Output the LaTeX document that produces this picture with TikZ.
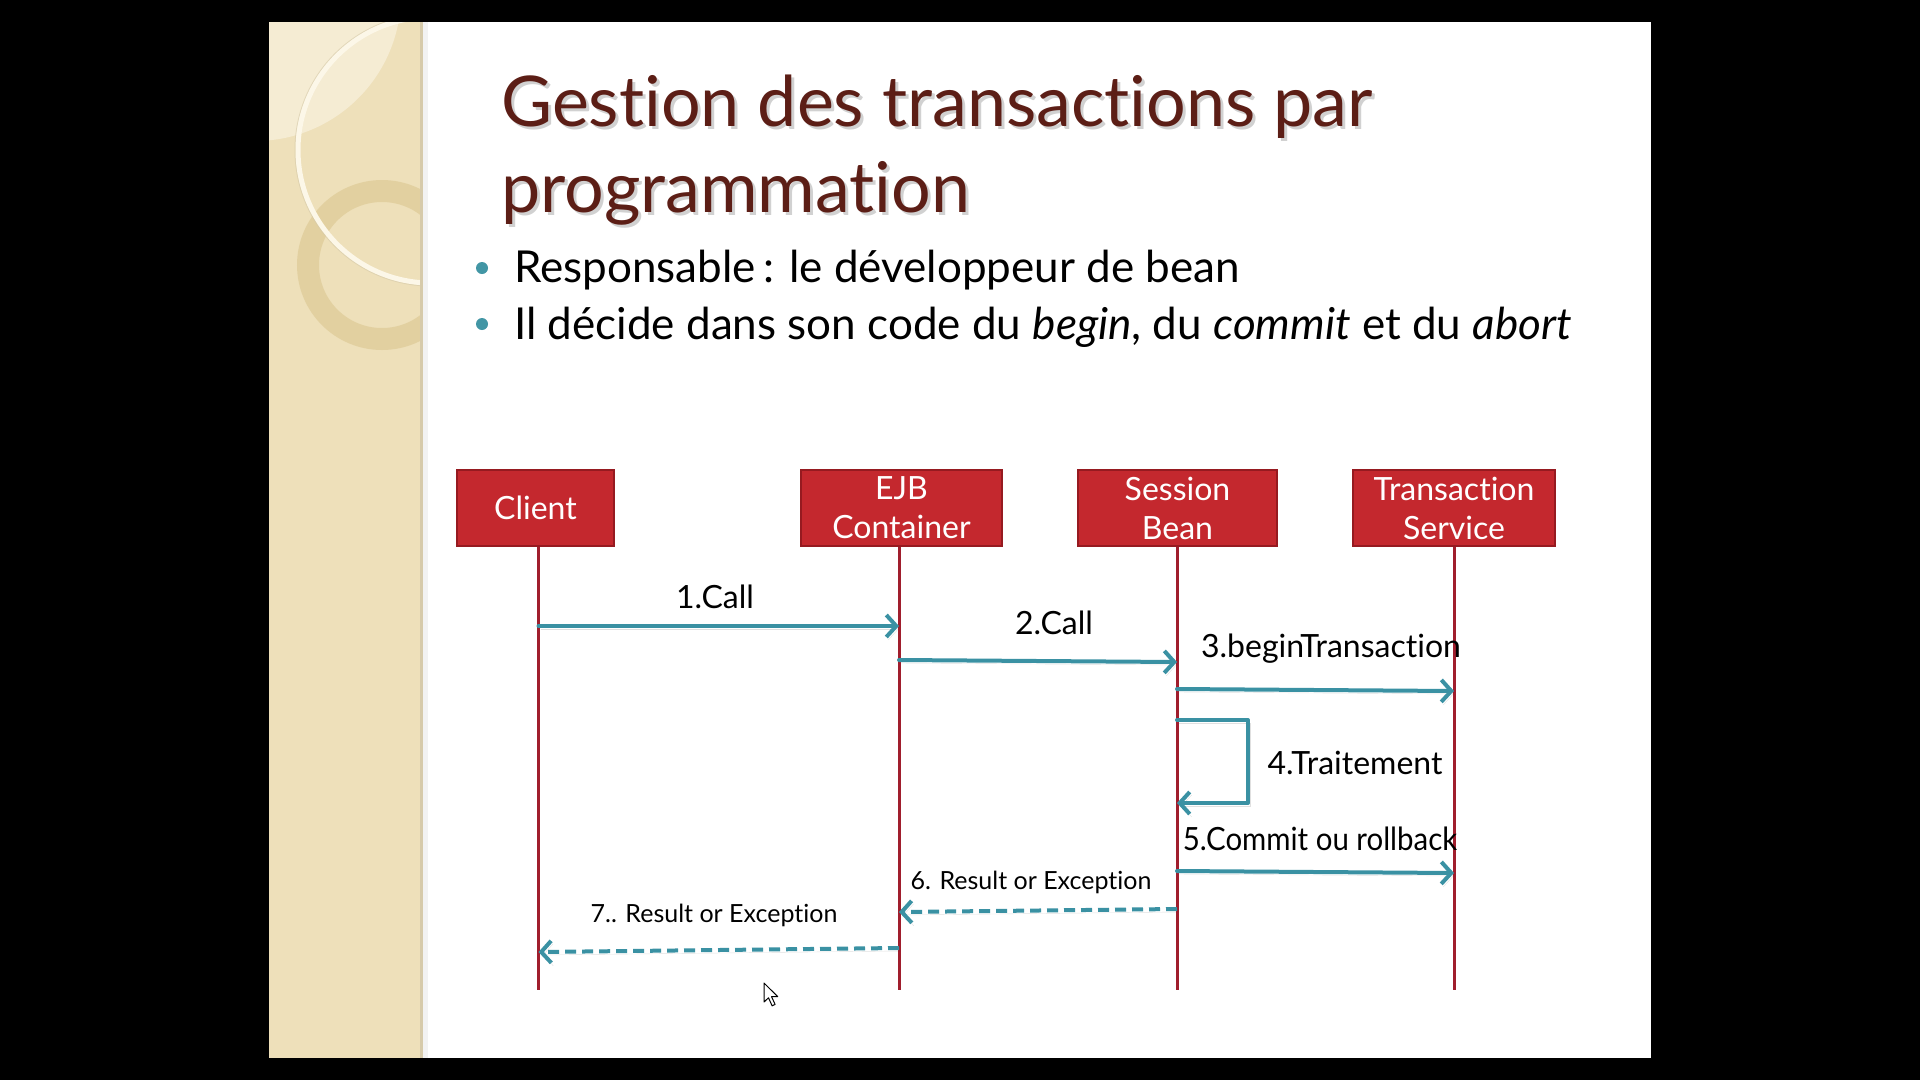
\documentclass[tikz,border=0pt]{standalone}
\usepackage{fontspec}
\setmainfont{Lato}[Ligatures=NoCommon]
\usetikzlibrary{arrows.meta}

\definecolor{panel}{RGB}{238,224,186}
\definecolor{panellight}{RGB}{245,236,211}
\definecolor{ringtan}{RGB}{222,202,150}
\definecolor{ringwhite}{RGB}{252,247,232}
\definecolor{panelshadow}{RGB}{214,202,170}
\definecolor{titlecol}{RGB}{92,30,22}
\definecolor{boxred}{RGB}{196,40,46}
\definecolor{boxborder}{RGB}{150,26,32}
\definecolor{lifecol}{RGB}{160,30,45}
\definecolor{teal}{RGB}{58,145,163}
\definecolor{bulletcol}{RGB}{66,150,165}

\tikzset{
  actor/.style={draw=boxborder, fill=boxred, line width=1.5pt, text=white,
    font=\fontsize{32}{39}\selectfont, align=center, minimum height=76pt, inner sep=0pt},
  lifeline/.style={draw=lifecol, line width=3pt},
  msg/.style={draw=teal, line width=4pt, line cap=round,
    -{Straight Barb[length=10pt,width=22pt,line width=4pt]},
    preaction={draw=black, draw opacity=0.12, transform canvas={shift={(2pt,-3pt)}}}},
  reply/.style={msg, dash pattern=on 11pt off 6pt, line cap=butt},
  lbl/.style={anchor=base, inner sep=0pt, text=black, font=\fontsize{32}{38}\selectfont},
  smalllbl/.style={anchor=base, inner sep=0pt, text=black, font=\fontsize{25}{30}\selectfont},
  titletext/.style={anchor=base west, inner sep=0pt, text=titlecol, font=\fontsize{70}{84}\selectfont},
  titleshadow/.style={anchor=base west, inner sep=0pt, text=black, text opacity=0.18, font=\fontsize{70}{84}\selectfont},
  bullettext/.style={anchor=base west, inner sep=0pt, text=black, font=\fontsize{44}{52}\selectfont},
}

\begin{document}
\begin{tikzpicture}[x=1pt,y=-1pt]
\useasboundingbox (0,0) rectangle (1920,1080);
\fill[black] (0,0) rectangle (1920,1080);
\fill[white] (269,22) rectangle (1651,1058);

% decorative side panel with rings
\begin{scope}
  \clip (269,22) rectangle (421,1058);
  \fill[panel] (269,22) rectangle (421,1058);
  \fill[panellight] (255,-5) circle (146pt);
  \draw[ringtan, line width=22pt, opacity=0.7] (382,265) circle (74pt);
  \draw[panelshadow, line width=1pt, opacity=0.6] (431,150) circle (136pt);
  \draw[ringwhite, line width=5pt] (431,150) circle (133pt);
\end{scope}
\fill[panelshadow] (420,22) rectangle (423,1058);
\fill[black, opacity=0.05] (423,22) rectangle (428,1058);

% title
\node[titleshadow] at (504,129) {Gestion des transactions par};
\node[titleshadow] at (504,215) {programmation};
\node[titletext] (t1) at (501,126) {Gestion des transactions par};
\node[titletext] (t2) at (501,212) {programmation};

% bullet list
\fill[bulletcol] (482,268) circle (6pt);
\fill[bulletcol] (482,324) circle (6pt);
\node[bullettext] (b1) at (514,282) {Responsable\,: le développeur de bean};
\node[bullettext] (b2) at (514,339) {Il décide dans son code du \textit{begin}, du \textit{commit} et du \textit{abort}};

% participants
\node[actor, minimum width=157pt] (client) at (535.5,508) {Client};
\node[actor, minimum width=201pt] (ejb) at (901.5,508) {EJB\\Container};
\node[actor, minimum width=199pt] (sb) at (1177.5,508) {Session\\Bean};
\node[actor, minimum width=202pt] (ts) at (1454,508) {Transaction\\Service};

% lifelines
\coordinate (clientEnd) at (538.5,990);
\coordinate (ejbEnd) at (899,990);
\coordinate (sbEnd) at (1177,990);
\coordinate (tsEnd) at (1454,990);
\draw[lifeline] (client.south -| clientEnd) -- (clientEnd);
\draw[lifeline] (ejb.south -| ejbEnd) -- (ejbEnd);
\draw[lifeline] (sb.south -| sbEnd) -- (sbEnd);
\draw[lifeline] (ts.south -| tsEnd) -- (tsEnd);

% message anchors on the lifelines
\coordinate (m1a) at (538.5,626);  \coordinate (m1b) at (899,626);
\coordinate (m2a) at (899,660);    \coordinate (m2b) at (1177,662);
\coordinate (m3a) at (1177,689);   \coordinate (m3b) at (1454,691);
\coordinate (m4a) at (1177,720);   \coordinate (m4b) at (1177,803);
\coordinate (m4r) at (1248,720);
\coordinate (m5a) at (1177,871);   \coordinate (m5b) at (1454,873);
\coordinate (m6a) at (1177,909);   \coordinate (m6b) at (899,912);
\coordinate (m7a) at (899,948);    \coordinate (m7b) at (538.5,952);

% messages
\draw[msg] (m1a) -- (m1b);
\draw[msg] (m2a) -- (m2b);
\draw[msg] (m3a) -- (m3b);
\draw[msg, line join=round] (m4a) -- (m4r) -- (m4r |- m4b) -- (m4b);
\draw[msg] (m5a) -- (m5b);
\draw[reply] (m6a) -- (m6b);
\draw[reply] (m7a) -- (m7b);

% message labels
\node[lbl] (l1) at (715,608) {1.Call};
\node[lbl] (l2) at (1054,634) {2.Call};
\node[lbl] (l3) at (1331,657) {3.beginTransaction};
\node[lbl] (l4) at (1355,774) {4.Traitement};
\node[lbl] (l5) at (1320,850) {\scalebox{0.92}[1]{5.Commit ou rollback}};
\node[smalllbl] (l6) at (1031,889) {6. Result or Exception};
\node[smalllbl] (l7) at (714,922) {7.. Result or Exception};

% mouse pointer
\draw[black, fill=white, line width=1pt, line join=round]
  (764,983) -- ++(0,19) -- ++(4.5,-4.2) -- ++(3.6,8) -- ++(3,-1.4) -- ++(-3.6,-7.8) -- ++(6.2,0) -- cycle;
\end{tikzpicture}
\end{document}
